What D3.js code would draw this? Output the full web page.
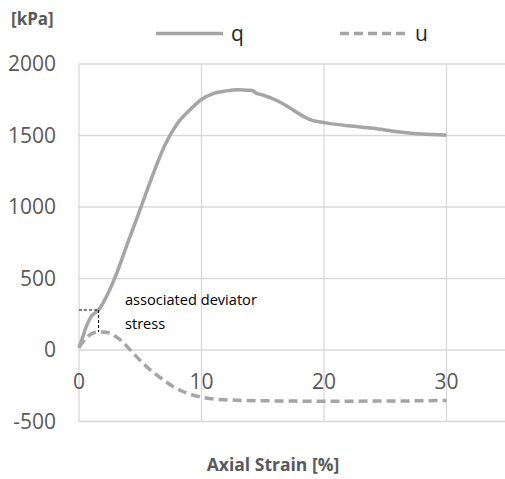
<!DOCTYPE html>
<html>
<head>
<meta charset="utf-8">
<script src="https://cdn.jsdelivr.net/npm/d3@7"></script>
<style>
  html, body { margin: 0; padding: 0; background: #fff; }
  svg { display: block; font-family: "Open Sans", "DejaVu Sans", sans-serif; }
</style>
</head>
<body>
<svg id="chart" width="505" height="479"></svg>
<script>
// Deviator stress q [kPa] against axial strain [%]
const qStrain = [0, 0.3, 0.6, 1.0, 1.6, 2.5, 3.0, 3.5, 4.0, 4.5, 5.0, 6.0, 7.0, 8.0, 9.0, 10.0, 11.0, 12.0, 13.0, 13.8, 14.2, 14.4, 15.0, 16.0, 17.0, 18.0, 18.8, 20.0, 22.0, 24.0, 26.0, 28.0, 30.0];
const qValues = [15, 90, 165, 235, 280, 420, 520, 635, 755, 870, 985, 1220, 1430, 1580, 1675, 1752, 1795, 1812, 1820, 1817, 1813, 1799, 1783, 1750, 1705, 1650, 1612, 1590, 1568, 1550, 1527, 1510, 1502];

// Pore pressure u [kPa] against axial strain [%]
const uStrain = [0, 0.5, 1.0, 1.6, 2.2, 3.0, 3.5, 4.4, 5.5, 6.9, 8.2, 9.6, 11.0, 12.5, 15.0, 20.0, 25.0, 30.0];
const uValues = [20, 75, 112, 126, 124, 95, 62, -20, -115, -210, -280, -322, -343, -350, -355, -358, -357, -353];

// Ticks
const xTicks = [0, 10, 20, 30];
const yTicks = [-500, 0, 500, 1000, 1500, 2000];

// Marked point: strain at peak u, with the deviator stress reached there
const markStrain = [1.6];
const markQ = [280];
const markU = [126];

const seriesNames = ["q", "u"];

const svg = d3.select("#chart");
const gray = "#a5a5a5";
const grid = "#d9d9d9";
const textCol = "#595959";

const x = d3.scaleLinear().domain([0, 35]).range([79, 507.75]);
const y = d3.scaleLinear().domain([-500, 2000]).range([421.5, 64]);

// Horizontal gridlines
svg.append("g")
  .selectAll("line")
  .data(yTicks)
  .join("line")
  .attr("x1", x(0)).attr("x2", x(35))
  .attr("y1", d => y(d)).attr("y2", d => y(d))
  .attr("stroke", grid).attr("stroke-width", 1.3);

// Vertical gridlines
svg.append("g")
  .selectAll("line")
  .data(xTicks)
  .join("line")
  .attr("x1", d => x(d)).attr("x2", d => x(d))
  .attr("y1", y(2000)).attr("y2", y(-500))
  .attr("stroke", grid).attr("stroke-width", 1.3);

// Y tick labels
svg.append("g")
  .selectAll("text")
  .data(yTicks)
  .join("text")
  .attr("x", 56)
  .attr("y", d => y(d))
  .attr("dy", "0.35em")
  .attr("text-anchor", "end")
  .attr("fill", textCol)
  .attr("font-size", 21)
  .text(d => d);

// X tick labels, placed under the zero line
svg.append("g")
  .selectAll("text")
  .data(xTicks)
  .join("text")
  .attr("x", d => x(d))
  .attr("y", y(0) + 39)
  .attr("text-anchor", "middle")
  .attr("fill", textCol)
  .attr("font-size", 21)
  .text(d => d);

const line = d3.line()
  .x(d => x(d[0]))
  .y(d => y(d[1]))
  .curve(d3.curveMonotoneX);

const qData = qStrain.map((s, i) => [s, qValues[i]]);
const uData = uStrain.map((s, i) => [s, uValues[i]]);

// u (dashed)
svg.append("path")
  .datum(uData)
  .attr("d", line)
  .attr("fill", "none")
  .attr("stroke", gray)
  .attr("stroke-width", 3.5)
  .attr("stroke-dasharray", "9,5");

// q (solid)
svg.append("path")
  .datum(qData)
  .attr("d", line)
  .attr("fill", "none")
  .attr("stroke", gray)
  .attr("stroke-width", 3.5)
  .attr("stroke-linejoin", "round");

// Marker box for the associated deviator stress
const mark = svg.append("g")
  .attr("fill", "none")
  .attr("stroke", "#000")
  .attr("stroke-width", 1)
  .attr("stroke-dasharray", "3,2");
mark.append("line")
  .attr("x1", x(0)).attr("x2", x(markStrain[0]))
  .attr("y1", y(markQ[0])).attr("y2", y(markQ[0]));
mark.append("line")
  .attr("x1", x(markStrain[0])).attr("x2", x(markStrain[0]))
  .attr("y1", y(markQ[0])).attr("y2", y(markU[0]));

const note = svg.append("text")
  .attr("fill", "#000")
  .attr("font-size", 14.6);
note.append("tspan").attr("x", 125).attr("y", 305).text("associated deviator");
note.append("tspan").attr("x", 125).attr("y", 329).text("stress");

// Legend
const legend = svg.append("g");
legend.append("line")
  .attr("x1", 156).attr("x2", 223).attr("y1", 33.5).attr("y2", 33.5)
  .attr("stroke", gray).attr("stroke-width", 3.5);
legend.append("text")
  .attr("x", 231).attr("y", 41)
  .attr("font-size", 21).attr("fill", "#262626")
  .text(seriesNames[0]);
legend.append("line")
  .attr("x1", 340).attr("x2", 408).attr("y1", 33.5).attr("y2", 33.5)
  .attr("stroke", gray).attr("stroke-width", 3.5)
  .attr("stroke-dasharray", "9,5");
legend.append("text")
  .attr("x", 415).attr("y", 41)
  .attr("font-size", 21).attr("fill", "#262626")
  .text(seriesNames[1]);

// Unit label and axis title
svg.append("text")
  .attr("x", 11).attr("y", 25)
  .attr("font-size", 17).attr("font-weight", "bold")
  .attr("fill", textCol)
  .text("[kPa]");

svg.append("text")
  .attr("x", 273).attr("y", 471)
  .attr("text-anchor", "middle")
  .attr("font-size", 17.5).attr("font-weight", "bold")
  .attr("fill", textCol)
  .text("Axial Strain [%]");
</script>
</body>
</html>
